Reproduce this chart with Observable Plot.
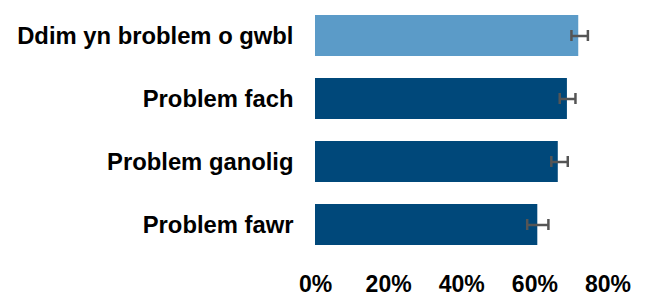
<!DOCTYPE html>
<html>
<head>
<meta charset="utf-8">
<script src="https://cdn.jsdelivr.net/npm/d3@7"></script>
<script src="https://cdn.jsdelivr.net/npm/@observablehq/plot@0.6"></script>
<style>
  html, body { margin: 0; padding: 0; background: #fff; }
  #chart svg { display: block; }
</style>
</head>
<body>
<div id="chart"></div>
<script>
const categories = ["Ddim yn broblem o gwbl", "Problem fach", "Problem ganolig", "Problem fawr"];
const values = [72.0, 68.9, 66.4, 60.8];
const errLow = [70.0, 66.8, 64.5, 57.9];
const errHigh = [74.5, 71.1, 69.0, 63.7];
const xTicks = [0, 20, 40, 60, 80];

const data = categories.map((c, i) => ({category: c, value: values[i], low: errLow[i], high: errHigh[i]}));

const lightBlue = "#5b9bc8";
const darkBlue = "#00487a";

const chart = Plot.plot({
  width: 647,
  height: 297,
  marginLeft: 315,
  marginRight: 39.5,
  marginTop: 3.5,
  marginBottom: 41.5,
  style: {fontFamily: "'Liberation Sans', Arial, sans-serif", fontSize: "23px", fontWeight: "bold", color: "#000", background: "#fff"},
  x: {domain: [0, 80], ticks: xTicks, tickFormat: d => d + "%", tickSize: 0, tickPadding: 20, label: null, grid: false},
  y: {domain: categories, paddingInner: 0.35, paddingOuter: 0.175, label: null, tickSize: 0, tickPadding: 22},
  color: {domain: categories, range: [lightBlue, darkBlue, darkBlue, darkBlue]},
  marks: [
    Plot.gridX(xTicks, {stroke: "#cfcfcf", strokeWidth: 2, strokeOpacity: 1, y1: 5, y2: 255}),
    Plot.barX(data, {x: "value", y: "category", fill: "category"}),
    Plot.ruleY(data, {y: "category", x1: "low", x2: "high", stroke: "#555", strokeWidth: 2.5}),
    Plot.tickX(data, {x: "low", y: "category", stroke: "#555", strokeWidth: 2.5, insetTop: 15, insetBottom: 15}),
    Plot.tickX(data, {x: "high", y: "category", stroke: "#555", strokeWidth: 2.5, insetTop: 15, insetBottom: 15}),
    Plot.axisX({ticks: xTicks, tickFormat: d => d + "%", tickSize: 0, tickPadding: 20, fontSize: 23, fontWeight: "bold", fill: "#000"}),
    Plot.axisY({tickSize: 0, tickPadding: 22, fontSize: 23.8, fontWeight: "bold", fill: "#000"})
  ]
});
document.getElementById("chart").appendChild(chart);
</script>
</body>
</html>
